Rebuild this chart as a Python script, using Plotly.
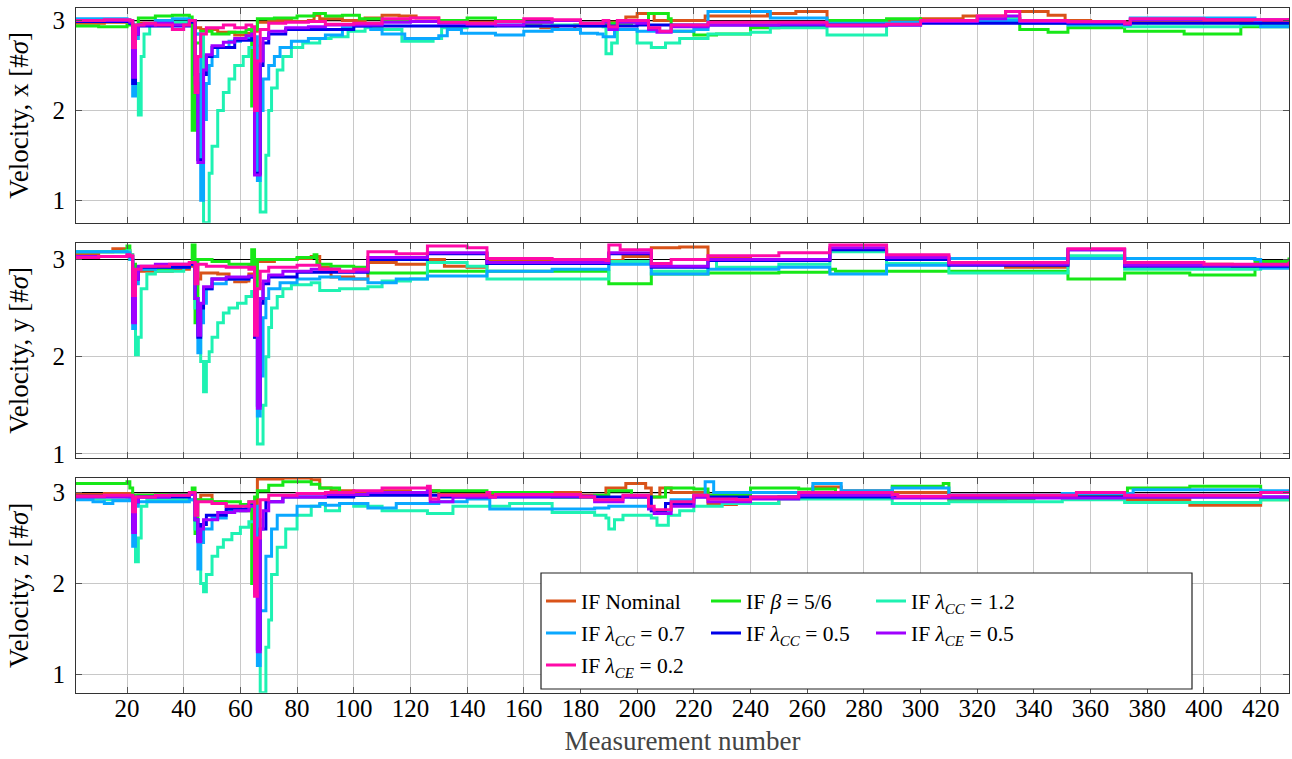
import plotly.graph_objects as go
from plotly.subplots import make_subplots

# Measurement span and the nominal reference level (in sigma)
measure_first, measure_last = 2, 430
reference_level = 3.0

# ---------------- x velocity: step knots (measurement number, value) ----------------
nominal_vx = [(2, 2.97), (12, 2.98), (21, 2.97), (22, 2.9), (24, 2.97), (30, 2.99), (36, 2.97), (42, 3.0),
              (44, 2.92), (46, 2.9), (52, 2.87), (58, 2.84), (62, 2.86), (64, 2.88), (66, 2.98), (70, 3.0),
              (78, 2.99), (84, 3.0), (86, 3.06), (88, 3.02), (96, 3.0), (104, 3.03), (110, 3.06), (116, 3.05),
              (122, 3.03), (130, 3.0), (140, 2.98), (150, 3.0), (160, 2.95), (166, 2.92), (172, 2.9),
              (178, 2.95), (190, 2.98), (196, 3.04), (200, 3.08), (206, 3.0), (212, 3.0), (224, 3.05),
              (246, 3.08), (256, 3.1), (267, 2.97), (288, 3.0), (300, 3.02), (315, 3.05), (330, 3.1),
              (345, 3.06), (351, 3.0), (360, 2.98), (375, 3.0), (395, 3.0), (415, 2.98), (430, 3.0)]
beta_vx = [(2, 2.94), (10, 2.93), (20, 2.95), (22, 2.95), (24, 3.03), (30, 3.05), (36, 3.06), (42, 3.04),
           (43, 1.78), (44, 2.75), (46, 2.88), (50, 2.85), (56, 2.87), (62, 2.9), (64, 2.05), (65, 2.9),
           (66, 3.02), (72, 3.03), (80, 3.05), (86, 3.08), (90, 3.05), (96, 3.06), (102, 3.02), (110, 3.0),
           (120, 2.99), (130, 3.0), (140, 3.03), (150, 3.0), (160, 2.98), (170, 3.0), (180, 2.97),
           (198, 2.98), (204, 3.08), (211, 3.02), (212, 2.88), (220, 2.84), (228, 2.85), (240, 2.92),
           (250, 2.95), (267, 3.0), (288, 3.02), (300, 3.0), (320, 3.02), (335, 2.9), (345, 2.87),
           (352, 2.92), (372, 2.88), (393, 2.85), (413, 2.93), (430, 2.93)]
cc12_vx = [(2, 3.0), (10, 2.99), (20, 3.0), (22, 2.95), (23, 2.3), (24, 1.95), (25, 2.6), (26, 2.85),
           (28, 2.97), (36, 2.98), (42, 3.0), (44, 2.85), (47, 0.75), (49, 1.3), (50, 1.6), (52, 2.0),
           (54, 2.2), (56, 2.35), (58, 2.5), (61, 2.6), (63, 2.7), (65, 2.72), (67, 0.87), (69, 1.5),
           (70, 2.0), (71, 2.25), (73, 2.45), (75, 2.6), (78, 2.7), (82, 2.75), (88, 2.8), (92, 2.82),
           (98, 2.88), (104, 2.92), (110, 2.9), (117, 2.77), (128, 2.8), (131, 2.92), (140, 2.94),
           (150, 2.95), (160, 2.94), (170, 2.95), (180, 2.94), (188, 2.93), (189, 2.63), (191, 2.75),
           (193, 2.9), (200, 2.75), (205, 2.7), (210, 2.75), (215, 2.8), (225, 2.85), (240, 2.87),
           (247, 2.92), (267, 2.84), (288, 2.97), (300, 2.98), (320, 3.02), (335, 2.97), (352, 2.97),
           (372, 2.93), (413, 2.95), (430, 2.95)]
cc07_vx = [(2, 3.02), (10, 3.02), (20, 3.01), (21, 3.0), (22, 2.16), (23, 2.8), (24, 2.95), (30, 3.0),
           (36, 3.02), (42, 3.0), (44, 2.85), (46, 1.0), (47, 1.9), (48, 2.3), (49, 2.5), (50, 2.6),
           (52, 2.7), (56, 2.77), (60, 2.8), (64, 2.82), (66, 1.22), (67, 2.0), (68, 2.35), (70, 2.5),
           (72, 2.6), (74, 2.7), (78, 2.77), (84, 2.8), (90, 2.84), (96, 2.92), (100, 2.94), (106, 2.9),
           (110, 2.85), (118, 2.8), (130, 2.83), (133, 2.9), (138, 2.86), (150, 2.84), (160, 2.88),
           (170, 2.9), (180, 2.86), (186, 2.85), (188, 2.82), (192, 2.9), (200, 2.88), (210, 2.88),
           (220, 2.9), (225, 3.1), (247, 3.03), (267, 2.97), (290, 2.98), (310, 2.99), (330, 3.0),
           (352, 2.95), (372, 2.95), (374, 3.03), (418, 3.0), (420, 2.93), (430, 2.93)]
cc05_vx = [(2, 2.99), (21, 2.97), (22, 2.3), (23, 2.85), (24, 2.94), (42, 2.98), (44, 2.4), (45, 1.45),
           (47, 2.4), (48, 2.6), (50, 2.7), (58, 2.78), (64, 2.82), (65, 1.3), (67, 2.5), (68, 2.75),
           (70, 2.85), (76, 2.9), (100, 2.94), (150, 2.94), (200, 2.95), (300, 2.97), (430, 2.98)]
ce05_vx = [(2, 3.0), (12, 3.0), (21, 2.98), (22, 2.37), (23, 2.85), (24, 2.95), (30, 2.97), (36, 2.95),
           (42, 3.0), (44, 2.3), (45, 1.42), (47, 2.45), (48, 2.62), (50, 2.72), (54, 2.76), (58, 2.8),
           (62, 2.83), (64, 2.85), (65, 1.28), (67, 2.55), (68, 2.8), (70, 2.88), (76, 2.92), (84, 2.93),
           (90, 2.95), (100, 2.95), (110, 2.98), (120, 2.99), (130, 2.97), (140, 2.96), (150, 2.95),
           (160, 2.98), (170, 3.0), (180, 2.97), (188, 2.98), (190, 2.9), (193, 2.98), (200, 2.97),
           (204, 2.9), (207, 2.87), (212, 2.93), (225, 2.95), (250, 2.96), (267, 2.94), (288, 2.95),
           (300, 2.99), (320, 3.02), (330, 3.05), (335, 2.99), (352, 2.98), (372, 2.96), (374, 3.01),
           (430, 3.0)]
ce02_vx = [(2, 3.0), (12, 3.01), (21, 3.0), (22, 2.7), (23, 2.95), (26, 2.97), (30, 2.95), (36, 2.9),
           (40, 2.95), (42, 3.0), (44, 2.2), (45, 2.6), (46, 2.85), (48, 2.92), (54, 2.95), (58, 2.92),
           (62, 2.95), (64, 2.93), (65, 2.0), (66, 2.55), (67, 2.9), (70, 2.97), (76, 2.98), (84, 2.99),
           (90, 2.96), (100, 2.97), (110, 3.02), (120, 3.03), (130, 2.98), (140, 2.97), (150, 2.99),
           (160, 3.02), (170, 3.01), (180, 2.97), (188, 3.0), (190, 2.93), (193, 3.0), (200, 3.0),
           (204, 2.92), (208, 2.88), (212, 2.95), (225, 2.98), (250, 2.98), (267, 2.95), (288, 2.96),
           (300, 3.0), (320, 3.05), (330, 3.1), (335, 3.0), (352, 2.99), (372, 2.97), (374, 3.02),
           (400, 3.01), (430, 3.03)]

# ---------------- y velocity ----------------
nominal_vy = [(2, 3.06), (10, 3.08), (15, 3.11), (20, 3.09), (21, 3.05), (22, 2.9), (24, 2.88), (30, 2.88),
              (36, 2.9), (42, 2.93), (44, 2.8), (46, 2.86), (52, 2.85), (56, 2.8), (58, 2.77), (62, 2.78),
              (63, 2.85), (65, 2.8), (66, 2.98), (72, 3.0), (80, 3.01), (85, 3.03), (88, 2.92), (92, 2.82),
              (100, 2.8), (105, 2.97), (115, 2.95), (126, 3.0), (132, 2.93), (140, 2.92), (147, 2.98),
              (160, 3.0), (175, 3.0), (189, 2.99), (195, 3.03), (205, 3.12), (215, 3.13), (225, 3.02),
              (240, 3.0), (255, 3.0), (268, 3.1), (288, 3.03), (310, 2.96), (330, 2.92), (352, 3.02),
              (372, 2.95), (410, 2.93), (425, 2.95), (430, 2.97)]
beta_vy = [(2, 3.08), (12, 3.08), (19, 3.09), (20, 3.14), (21, 3.0), (22, 2.95), (23, 2.9), (30, 2.9),
           (36, 2.92), (42, 2.95), (43, 3.15), (44, 2.35), (45, 3.0), (50, 2.98), (56, 2.95), (63, 2.93),
           (64, 3.1), (65, 2.2), (66, 3.0), (74, 3.0), (80, 3.02), (86, 3.05), (87, 2.95), (92, 2.93),
           (100, 2.92), (105, 2.86), (115, 2.86), (126, 2.88), (147, 2.88), (170, 2.88), (189, 2.88),
           (190, 2.75), (205, 2.85), (225, 2.86), (250, 2.87), (268, 2.9), (270, 2.88), (310, 2.88),
           (352, 2.8), (372, 2.86), (395, 2.84), (418, 2.98), (430, 3.02)]
cc12_vy = [(2, 3.08), (20, 3.09), (21, 3.05), (22, 2.5), (23, 2.02), (24, 2.2), (25, 2.7), (27, 2.85),
           (30, 2.88), (40, 2.93), (42, 2.95), (44, 2.5), (46, 1.95), (47, 1.64), (48, 1.95), (49, 2.05),
           (50, 2.2), (52, 2.35), (54, 2.45), (56, 2.5), (59, 2.55), (62, 2.62), (64, 2.67), (66, 1.1),
           (68, 1.5), (69, 2.0), (70, 2.3), (71, 2.5), (73, 2.62), (75, 2.7), (78, 2.74), (85, 2.76),
           (88, 2.68), (95, 2.7), (105, 2.72), (110, 2.78), (120, 2.8), (126, 2.97), (140, 2.93),
           (147, 2.8), (170, 2.8), (189, 2.8), (190, 2.98), (205, 2.88), (225, 3.0), (228, 2.92),
           (250, 2.95), (268, 3.08), (288, 2.96), (310, 2.86), (352, 3.04), (372, 2.9), (420, 2.92),
           (430, 2.93)]
cc07_vy = [(2, 3.08), (20, 3.07), (21, 3.0), (22, 2.29), (23, 2.75), (24, 2.9), (30, 2.92), (42, 2.95),
           (44, 2.6), (45, 2.04), (46, 2.35), (47, 2.55), (48, 2.7), (50, 2.75), (55, 2.8), (63, 2.82),
           (65, 2.4), (66, 1.39), (67, 1.8), (68, 2.4), (69, 2.6), (70, 2.7), (74, 2.76), (80, 2.8),
           (88, 2.82), (95, 2.8), (105, 2.76), (115, 2.8), (126, 2.83), (147, 2.88), (170, 2.9),
           (189, 2.9), (190, 2.95), (205, 2.85), (225, 2.9), (250, 2.92), (268, 2.85), (288, 2.94),
           (310, 3.01), (418, 3.0), (420, 2.91), (430, 2.92)]
cc05_vy = [(2, 3.03), (21, 3.03), (22, 2.36), (23, 2.8), (24, 2.92), (42, 2.95), (44, 2.6), (45, 2.2),
           (46, 2.5), (47, 2.7), (50, 2.8), (63, 2.82), (65, 2.2), (66, 1.5), (67, 2.55), (68, 2.75),
           (70, 2.82), (80, 2.87), (100, 2.87), (105, 3.0), (126, 3.06), (147, 2.96), (189, 2.96),
           (190, 3.06), (205, 2.92), (225, 2.99), (268, 3.1), (288, 3.0), (310, 2.94), (352, 3.1),
           (372, 2.93), (430, 2.95)]
ce05_vy = [(2, 3.03), (20, 3.04), (21, 3.03), (22, 2.35), (23, 2.8), (24, 2.93), (30, 2.95), (42, 2.97),
           (44, 2.6), (45, 2.22), (46, 2.55), (47, 2.72), (50, 2.8), (55, 2.82), (63, 2.83), (65, 2.3),
           (66, 1.47), (67, 2.6), (68, 2.78), (70, 2.84), (75, 2.88), (85, 2.9), (95, 2.88), (105, 3.02),
           (126, 3.07), (147, 2.97), (189, 2.97), (190, 3.07), (205, 2.93), (225, 3.0), (268, 3.12),
           (288, 3.02), (310, 2.95), (352, 3.1), (372, 2.94), (430, 2.96)]
ce02_vy = [(2, 3.02), (10, 3.03), (20, 3.05), (21, 3.04), (22, 2.63), (23, 2.9), (25, 2.93), (35, 2.95),
           (42, 2.97), (44, 2.75), (45, 2.95), (48, 2.93), (55, 2.92), (63, 2.9), (64, 2.92), (65, 2.22),
           (66, 2.7), (67, 2.88), (70, 2.92), (80, 2.94), (88, 2.9), (95, 2.88), (100, 2.9), (105, 3.08),
           (115, 3.06), (126, 3.14), (140, 3.12), (147, 3.01), (170, 3.0), (189, 2.99), (190, 3.15),
           (194, 3.1), (205, 2.96), (212, 3.0), (225, 3.04), (250, 3.07), (268, 3.15), (288, 3.05),
           (310, 2.97), (352, 3.11), (372, 2.97), (400, 2.95), (430, 2.98)]

# ---------------- z velocity ----------------
nominal_vz = [(2, 2.98), (12, 2.99), (21, 2.98), (22, 2.92), (24, 2.97), (35, 2.98), (42, 2.99), (44, 2.92),
              (46, 2.97), (50, 2.9), (55, 2.85), (60, 2.8), (63, 2.83), (65, 2.3), (66, 3.15), (75, 3.16),
              (85, 3.14), (88, 3.05), (92, 3.02), (100, 3.0), (110, 3.02), (120, 3.0), (126, 3.02),
              (130, 2.98), (147, 2.97), (160, 2.99), (170, 3.0), (180, 2.97), (189, 3.05), (196, 3.1),
              (203, 3.05), (205, 2.95), (208, 3.05), (212, 3.0), (225, 2.87), (235, 2.88), (250, 2.95),
              (262, 3.06), (272, 3.02), (290, 3.0), (310, 2.92), (330, 2.95), (350, 2.97), (372, 2.92),
              (395, 2.86), (420, 2.93), (430, 2.95)]
beta_vz = [(2, 3.1), (12, 3.1), (20, 3.12), (21, 3.05), (22, 2.97), (30, 2.98), (42, 2.98), (43, 3.05),
           (44, 2.55), (45, 2.92), (50, 2.9), (56, 2.9), (60, 2.87), (63, 2.9), (64, 2.0), (65, 2.95),
           (66, 3.02), (70, 3.08), (75, 3.12), (85, 3.09), (88, 3.05), (95, 3.0), (100, 2.97), (105, 3.0),
           (126, 3.02), (140, 3.02), (147, 3.0), (160, 3.0), (170, 2.95), (185, 2.97), (190, 3.02),
           (198, 2.95), (210, 3.05), (220, 3.04), (225, 2.97), (240, 3.05), (257, 3.04), (270, 2.97),
           (290, 3.07), (308, 3.1), (310, 2.93), (340, 2.95), (372, 2.96), (373, 3.05), (395, 3.07),
           (420, 2.92), (430, 2.92)]
cc12_vz = [(2, 2.93), (12, 2.92), (20, 2.93), (22, 2.6), (23, 2.24), (24, 2.5), (25, 2.85), (27, 2.92),
           (42, 2.92), (44, 2.6), (46, 2.0), (47, 1.91), (48, 2.1), (50, 2.3), (52, 2.4), (54, 2.48),
           (57, 2.55), (60, 2.62), (63, 2.68), (65, 2.7), (67, 0.8), (69, 1.3), (70, 1.6), (71, 2.1),
           (73, 2.4), (76, 2.6), (80, 2.75), (85, 2.85), (88, 2.87), (90, 2.8), (95, 2.88), (100, 2.85),
           (110, 2.8), (126, 2.77), (135, 2.85), (147, 2.85), (155, 2.88), (170, 2.78), (185, 2.75),
           (189, 2.72), (190, 2.6), (192, 2.7), (195, 2.75), (205, 2.72), (207, 2.64), (211, 2.75),
           (215, 2.8), (220, 2.85), (230, 2.88), (250, 2.93), (290, 2.88), (310, 2.9), (350, 2.92),
           (372, 2.89), (420, 2.92), (430, 2.93)]
cc07_vz = [(2, 2.92), (8, 2.9), (12, 2.88), (15, 2.91), (21, 2.92), (22, 2.41), (23, 2.85), (24, 2.9),
           (42, 2.92), (44, 2.7), (45, 2.16), (46, 2.45), (47, 2.6), (50, 2.72), (55, 2.8), (62, 2.85),
           (64, 2.85), (66, 1.1), (67, 1.7), (69, 2.3), (71, 2.6), (73, 2.75), (80, 2.85), (88, 2.88),
           (90, 2.86), (95, 2.88), (105, 2.83), (115, 2.88), (130, 2.9), (140, 2.93), (148, 2.82),
           (170, 2.82), (185, 2.83), (190, 2.85), (205, 2.8), (212, 2.92), (220, 2.97), (224, 3.12),
           (227, 3.0), (262, 3.1), (272, 3.02), (290, 3.05), (310, 2.97), (350, 2.99), (375, 3.03),
           (420, 3.02), (430, 3.02)]
cc05_vz = [(2, 2.96), (21, 2.96), (22, 2.6), (23, 2.9), (24, 2.95), (42, 2.98), (44, 2.7), (45, 2.47),
           (46, 2.65), (48, 2.75), (55, 2.82), (63, 2.86), (65, 1.9), (66, 1.28), (67, 2.6), (69, 2.9),
           (75, 2.95), (100, 2.97), (130, 2.95), (205, 2.8), (210, 2.88), (220, 2.95), (300, 2.95),
           (430, 2.96)]
ce05_vz = [(2, 2.95), (12, 2.95), (21, 2.96), (22, 2.56), (23, 2.9), (24, 2.95), (35, 2.97), (42, 2.98),
           (44, 2.7), (45, 2.46), (46, 2.6), (47, 2.7), (52, 2.78), (58, 2.8), (63, 2.85), (65, 1.9),
           (66, 1.25), (67, 2.6), (68, 2.8), (70, 2.9), (75, 2.95), (90, 2.98), (105, 3.0), (126, 3.02),
           (127, 2.9), (135, 2.95), (150, 2.96), (175, 2.96), (185, 2.9), (195, 2.95), (204, 2.82),
           (206, 2.77), (212, 2.85), (220, 2.95), (225, 2.9), (240, 2.93), (257, 2.97), (290, 2.94),
           (372, 2.95), (430, 2.96)]
ce02_vz = [(2, 2.96), (12, 2.97), (21, 2.97), (22, 2.79), (23, 2.95), (30, 2.97), (42, 3.0), (44, 2.75),
           (45, 2.9), (50, 2.88), (55, 2.85), (63, 2.9), (65, 1.86), (66, 2.5), (67, 2.92), (70, 2.97),
           (80, 2.99), (90, 3.0), (100, 3.02), (110, 3.05), (126, 3.07), (127, 2.93), (130, 2.97),
           (147, 3.0), (148, 2.95), (150, 2.98), (175, 2.98), (180, 2.95), (185, 2.92), (195, 2.97),
           (204, 2.85), (206, 2.81), (212, 2.9), (220, 2.97), (225, 2.93), (235, 2.92), (240, 2.95),
           (257, 3.0), (290, 2.98), (292, 2.96), (310, 2.97), (355, 3.0), (372, 2.97), (420, 3.0),
           (430, 3.0)]

series_names = [
    "IF Nominal",
    "IF <i>β</i> = 5/6",
    "IF <i>λ</i><sub><i>CC</i></sub> = 1.2",
    "IF <i>λ</i><sub><i>CC</i></sub> = 0.7",
    "IF <i>λ</i><sub><i>CC</i></sub> = 0.5",
    "IF <i>λ</i><sub><i>CE</i></sub> = 0.5",
    "IF <i>λ</i><sub><i>CE</i></sub> = 0.2",
]
series_colors = ["#D95319", "#17E817", "#1EF2B2", "#0AA8FF", "#0000E8", "#A000FF", "#FF0AA8"]

axis_labels = ["x", "y", "z"]
axis_series = [
    [nominal_vx, beta_vx, cc12_vx, cc07_vx, cc05_vx, ce05_vx, ce02_vx],
    [nominal_vy, beta_vy, cc12_vy, cc07_vy, cc05_vy, ce05_vy, ce02_vy],
    [nominal_vz, beta_vz, cc12_vz, cc07_vz, cc05_vz, ce05_vz, ce02_vz],
]
axis_ranges = [[0.75, 3.14], [0.96, 3.17], [0.80, 3.16]]
legend_rows = ["legend", "legend", "legend", "legend2", "legend2", "legend2", "legend3"]

FONT = "'Liberation Serif', 'DejaVu Serif', serif"
W, H = 1292, 759
ML, MR, MT, MB = 76, 3, 8, 66
PW, PH = W - ML - MR, H - MT - MB


def px_x(px):
    return (px - ML) / PW


def px_y(py):
    return 1 - (py - MT) / PH


fig = make_subplots(rows=3, cols=1)

for row, (lab, group) in enumerate(zip(axis_labels, axis_series), start=1):
    # reference level drawn first so every series sits on top of it
    fig.add_trace(
        go.Scatter(x=[measure_first, measure_last], y=[reference_level, reference_level], mode="lines",
                   line=dict(color="black", width=1.2), showlegend=False, hoverinfo="skip"),
        row=row, col=1,
    )
    for k, pts in enumerate(group):
        xs = [p[0] for p in pts]
        ys = [p[1] for p in pts]
        fig.add_trace(
            go.Scatter(
                x=xs, y=ys, mode="lines", name=series_names[k],
                line=dict(color=series_colors[k], width=3, shape="hv"),
                showlegend=(row == 1), legend=legend_rows[k], legendgroup=str(k),
                hoverinfo="skip",
            ),
            row=row, col=1,
        )

# panel placement (pixel rows of each plot area)
panel_px = [(8, 222.7), (243, 457.7), (478, 692.7)]
for i, (top, bot) in enumerate(panel_px, start=1):
    ya = "yaxis" if i == 1 else f"yaxis{i}"
    xa = "xaxis" if i == 1 else f"xaxis{i}"
    fig.layout[ya].domain = [max(0, px_y(bot)), min(1, px_y(top))]
    fig.layout[ya].update(
        range=axis_ranges[i - 1], tickvals=[1, 2, 3], ticktext=["1", "2", "3"],
        showgrid=True, gridcolor="#c8c8c8", gridwidth=1, zeroline=False,
        showline=True, linecolor="#333333", linewidth=1.2, mirror="ticks",
        ticks="inside", ticklen=6, tickcolor="#555555",
        tickfont=dict(family=FONT, size=25, color="black"), ticklabelstandoff=5,
        title=dict(text=f"Velocity, {axis_labels[i - 1]} [#<i>σ</i>]",
                   font=dict(family=FONT, size=27, color="black"), standoff=15),
    )
    fig.layout[xa].update(
        range=[measure_first, measure_last], tick0=0, dtick=20,
        showgrid=True, gridcolor="#c8c8c8", gridwidth=1, zeroline=False,
        showline=True, linecolor="#333333", linewidth=1.2, mirror="ticks",
        ticks="inside", ticklen=6, tickcolor="#555555",
        showticklabels=(i == 3), ticklabelstandoff=-7,
        tickfont=dict(family=FONT, size=25, color="black"),
    )
fig.layout.xaxis3.title = dict(text="Measurement number", font=dict(family=FONT, size=27, color="#444444"),
                               standoff=10)

# legend frame and three rows of entries
fig.add_shape(type="rect", xref="paper", yref="paper",
              x0=px_x(541), x1=px_x(1192), y0=px_y(689), y1=px_y(573),
              line=dict(color="#222222", width=1.2), fillcolor="white", layer="above")
legend_common = dict(orientation="h", xanchor="left", yanchor="middle", bgcolor="rgba(0,0,0,0)",
                     borderwidth=0, font=dict(family=FONT, size=21.5, color="black"),
                     entrywidth=120, entrywidthmode="pixels", itemwidth=30)
fig.update_layout(
    legend=dict(x=px_x(541), y=px_y(601), **legend_common),
    legend2=dict(x=px_x(541), y=px_y(633), **legend_common),
    legend3=dict(x=px_x(541), y=px_y(665), **legend_common),
)

fig.update_layout(
    width=W, height=H, margin=dict(l=ML, r=MR, t=MT, b=MB),
    paper_bgcolor="white", plot_bgcolor="white",
    font=dict(family=FONT, color="black"),
)

fig.write_html("out.html")
